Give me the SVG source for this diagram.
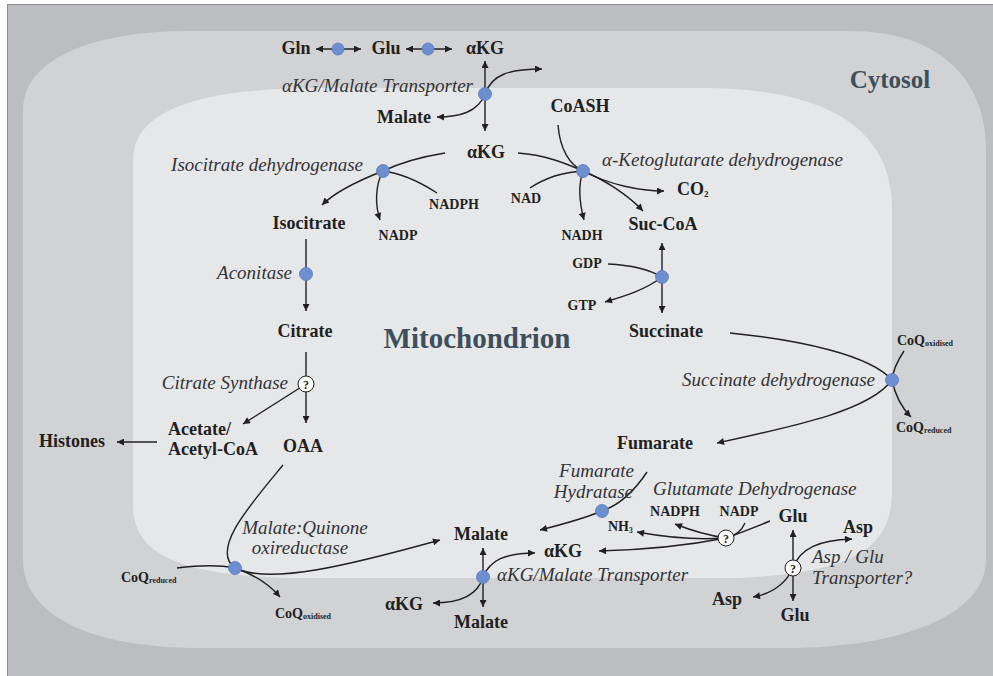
<svg xmlns="http://www.w3.org/2000/svg" width="993" height="676" viewBox="0 0 993 676">
<defs>
<marker id="ah" viewBox="0 0 10 10" refX="10" refY="5" markerWidth="9" markerHeight="7" markerUnits="userSpaceOnUse" orient="auto-start-reverse"><path d="M0,0 L10,5 L0,10 Z" fill="#231f20"/></marker>
<style>
.ln{fill:none;stroke:#231f20;stroke-width:1.4}
.ar{marker-end:url(#ah)}
.da{marker-start:url(#ah);marker-end:url(#ah)}
.n{font-family:"Liberation Serif","Times New Roman",serif;font-weight:bold;font-size:18px;fill:#231f20}
.s{font-family:"Liberation Serif","Times New Roman",serif;font-weight:bold;font-size:14px;fill:#231f20}
.q{font-family:"Liberation Serif","Times New Roman",serif;font-weight:bold;font-size:14px;fill:#231f20}
.sub{font-size:8px}
.e{font-family:"Liberation Serif","Times New Roman",serif;font-style:italic;font-size:19px;fill:#333335}
.big{font-family:"Liberation Serif","Times New Roman",serif;font-weight:bold;fill:#3e4f5b}
.dot{fill:#6d8ed0;stroke:#5a7bbd;stroke-width:0.8}
.qc{fill:#ffffff;stroke:#231f20;stroke-width:1}
.qt{font-family:"Liberation Serif","Times New Roman",serif;font-weight:bold;font-size:12px;fill:#231f20;text-anchor:middle}
.m{text-anchor:middle}
.end{text-anchor:end}
</style>
</defs>
<rect x="0" y="0" width="993" height="676" fill="#ffffff"/>
<rect x="7.5" y="4.5" width="986" height="672" fill="#bcbdc1" stroke="#8e8f93" stroke-width="1"/>
<path id="cytosol-region" d="M23,560 L23,110 C23,60 90,31 190,31 L850,31 C940,31 986,80 986,150 L986,560 C986,615 900,648 786,648 L200,648 C90,648 23,615 23,560 Z" fill="#d1d2d4"/>
<path id="mito-region" d="M133,505 L133,160 C133,110 200,88 320,88 L700,88 C830,88 892,130 892,210 L892,490 C892,545 860,572 740,578 L290,578 C180,575 133,555 133,505 Z" fill="#e6e7e9"/>
<text class="big" x="890" y="88" font-size="25" text-anchor="middle">Cytosol</text>
<text class="big" x="477" y="348" font-size="29" text-anchor="middle">Mitochondrion</text>

<g id="connectors">
<path class="ln da" d="M316,49 L361,49"/>
<path class="ln da" d="M406,49 L452,49"/>
<path class="ln da" d="M485,61 L485,131"/>
<path class="ln ar" d="M485,94 C492,74 510,69 542,69"/>
<path class="ln ar" d="M485,94 C478,112 460,117 437,117"/>
<path class="ln" d="M558,125 C560,150 570,165 583,171"/>
<path class="ln" d="M518,153 C545,155 565,163 583,171"/>
<path class="ln" d="M530,188 C545,178 565,172 583,171"/>
<path class="ln ar" d="M583,171 C577,188 580,205 584,220"/>
<path class="ln ar" d="M583,171 C605,180 628,195 643,211"/>
<path class="ln ar" d="M583,171 C610,185 640,191 664,191"/>
<path class="ln" d="M445,153 C420,157 400,163 383,171"/>
<path class="ln ar" d="M383,171 C360,180 335,192 322,205"/>
<path class="ln ar" d="M383,171 C375,185 375,205 380,220"/>
<path class="ln" d="M437,193 C420,182 400,173 383,171"/>
<path class="ln ar" d="M306,239 L306,311"/>
<path class="ln ar" d="M306,352 L306,423"/>
<path class="ln ar" d="M306,384 L243,424"/>
<path class="ln ar" d="M157,442 L117,442"/>
<path class="ln da" d="M662,243 L662,313"/>
<path class="ln" d="M608,264 C630,265 650,270 662,277"/>
<path class="ln ar" d="M662,277 C645,290 625,296 605,302"/>
<path class="ln" d="M730,333 C800,340 870,355 892,380"/>
<path class="ln ar" d="M892,380 C870,410 800,425 717,443"/>
<path class="ln" d="M904,351 C898,360 893,370 892,380"/>
<path class="ln ar" d="M892,380 C895,395 902,408 911,417"/>
<path class="ln ar" d="M647,472 C635,490 620,505 602,511 C585,518 560,525 540,530"/>
<path class="ln" d="M770,521 C755,527 740,533 726,538"/>
<path class="ln" d="M745,523 C742,530 735,536 726,538"/>
<path class="ln ar" d="M726,538 C705,535 690,530 675,524"/>
<path class="ln ar" d="M726,538 C700,540 670,538 637,532"/>
<path class="ln ar" d="M726,538 C690,545 640,550 599,551"/>
<path class="ln da" d="M793,530 L793,601"/>
<path class="ln ar" d="M793,568 C800,548 820,540 852,539"/>
<path class="ln ar" d="M793,568 C785,585 770,594 753,597"/>
<path class="ln" d="M283,465 C250,505 210,550 235,568"/>
<path class="ln ar" d="M235,568 C270,585 350,565 440,540"/>
<path class="ln" d="M177,568 C200,565 220,565 235,568"/>
<path class="ln ar" d="M235,568 C255,575 270,585 280,597"/>
<path class="ln da" d="M483,548 L483,607"/>
<path class="ln ar" d="M483,577 C490,560 505,553 535,553"/>
<path class="ln ar" d="M483,577 C478,595 460,603 433,603"/>
</g>

<g id="gln-glu-enzyme"><circle class="dot" cx="338" cy="49" r="6"/></g>
<g id="glu-akg-enzyme"><circle class="dot" cx="428" cy="49" r="6"/></g>
<g id="akg-malate-transporter-top"><circle class="dot" cx="485" cy="94" r="6.5"/><text class="e end" x="473" y="92">αKG/Malate Transporter</text></g>
<g id="akgdh"><circle class="dot" cx="583" cy="171" r="6.5"/><text class="e" x="602" y="166">α-Ketoglutarate dehydrogenase</text></g>
<g id="idh"><circle class="dot" cx="383" cy="171" r="6.5"/><text class="e end" x="363" y="171">Isocitrate dehydrogenase</text></g>
<g id="aconitase"><circle class="dot" cx="306" cy="274" r="6.5"/><text class="e end" x="292" y="279">Aconitase</text></g>
<g id="citrate-synthase"><circle class="qc" cx="306" cy="384" r="8"/><text class="qt" x="306" y="388.5">?</text><text class="e end" x="288" y="389">Citrate Synthase</text></g>
<g id="succinyl-coa-synthetase"><circle class="dot" cx="662" cy="277" r="6.5"/></g>
<g id="sdh"><circle class="dot" cx="892" cy="380" r="6.5"/><text class="e end" x="875" y="386">Succinate dehydrogenase</text></g>
<g id="fumarate-hydratase"><circle class="dot" cx="602" cy="511" r="6.5"/><text class="e end" x="634" y="477">Fumarate</text><text class="e end" x="633" y="498">Hydratase</text></g>
<g id="gdh"><circle class="qc" cx="726" cy="538" r="8"/><text class="qt" x="726" y="542.5">?</text><text class="e" x="653" y="495">Glutamate Dehydrogenase</text></g>
<g id="asp-glu-transporter"><circle class="qc" cx="793" cy="568" r="8"/><text class="qt" x="793" y="572.5">?</text><text class="e" x="812" y="563">Asp / Glu</text><text class="e" x="812" y="584">Transporter?</text></g>
<g id="mqo"><circle class="dot" cx="235" cy="568" r="6.5"/><text class="e m" x="305" y="534">Malate:Quinone</text><text class="e m" x="300" y="554">oxireductase</text></g>
<g id="akg-malate-transporter-bottom"><circle class="dot" cx="483" cy="577" r="6.5"/><text class="e" x="497" y="581">αKG/Malate Transporter</text></g>

<g id="gln"><text class="n m" x="296" y="54">Gln</text></g>
<g id="glu-cyto"><text class="n m" x="386" y="54">Glu</text></g>
<g id="akg-cyto"><text class="n m" x="485" y="54">αKG</text></g>
<g id="malate-cyto-top"><text class="n m" x="404" y="123">Malate</text></g>
<g id="coash"><text class="n m" x="580" y="112">CoASH</text></g>
<g id="akg-mito"><text class="n m" x="486" y="158">αKG</text></g>
<g id="isocitrate"><text class="n m" x="309" y="229">Isocitrate</text></g>
<g id="citrate"><text class="n m" x="305" y="337">Citrate</text></g>
<g id="suc-coa"><text class="n m" x="663" y="230">Suc-CoA</text></g>
<g id="co2"><text class="n" x="677" y="195">CO<tspan font-size="9" dy="2">2</tspan></text></g>
<g id="succinate"><text class="n m" x="666" y="337">Succinate</text></g>
<g id="fumarate"><text class="n m" x="655" y="449">Fumarate</text></g>
<g id="acetyl-coa"><text class="n" x="168" y="435">Acetate/</text><text class="n" x="168" y="455">Acetyl-CoA</text></g>
<g id="oaa"><text class="n m" x="303" y="452">OAA</text></g>
<g id="histones"><text class="n m" x="72" y="447">Histones</text></g>
<g id="malate-mito"><text class="n m" x="481" y="540">Malate</text></g>
<g id="akg-mito-bottom"><text class="n m" x="563" y="557">αKG</text></g>
<g id="akg-cyto-bottom"><text class="n m" x="404" y="610">αKG</text></g>
<g id="malate-cyto-bottom"><text class="n m" x="481" y="628">Malate</text></g>
<g id="glu-mito"><text class="n m" x="793" y="522">Glu</text></g>
<g id="asp-cyto"><text class="n m" x="858" y="533">Asp</text></g>
<g id="asp-mito"><text class="n m" x="727" y="605">Asp</text></g>
<g id="glu-cyto-bottom"><text class="n m" x="795" y="621">Glu</text></g>
<g id="nadph-idh"><text class="s m" x="454" y="209">NADPH</text></g>
<g id="nadp-idh"><text class="s m" x="398" y="240">NADP</text></g>
<g id="nad"><text class="s m" x="526" y="203">NAD</text></g>
<g id="nadh"><text class="s m" x="582" y="240">NADH</text></g>
<g id="gdp"><text class="s m" x="587" y="268">GDP</text></g>
<g id="gtp"><text class="s m" x="582" y="310">GTP</text></g>
<g id="nadph-gdh"><text class="s m" x="675" y="516">NADPH</text></g>
<g id="nadp-gdh"><text class="s m" x="739" y="516">NADP</text></g>
<g id="nh3"><text class="q" x="608" y="531" font-size="13">NH<tspan font-size="7.5" dy="2">3</tspan></text></g>
<g id="coq-ox-sdh"><text class="q" x="897" y="345">CoQ<tspan class="sub" dy="1">oxidised</tspan></text></g>
<g id="coq-red-sdh"><text class="q" x="896" y="432">CoQ<tspan class="sub" dy="1">reduced</tspan></text></g>
<g id="coq-red-mqo"><text class="q" x="121" y="582">CoQ<tspan class="sub" dy="1">reduced</tspan></text></g>
<g id="coq-ox-mqo"><text class="q" x="275" y="618">CoQ<tspan class="sub" dy="1">oxidised</tspan></text></g>
</svg>
